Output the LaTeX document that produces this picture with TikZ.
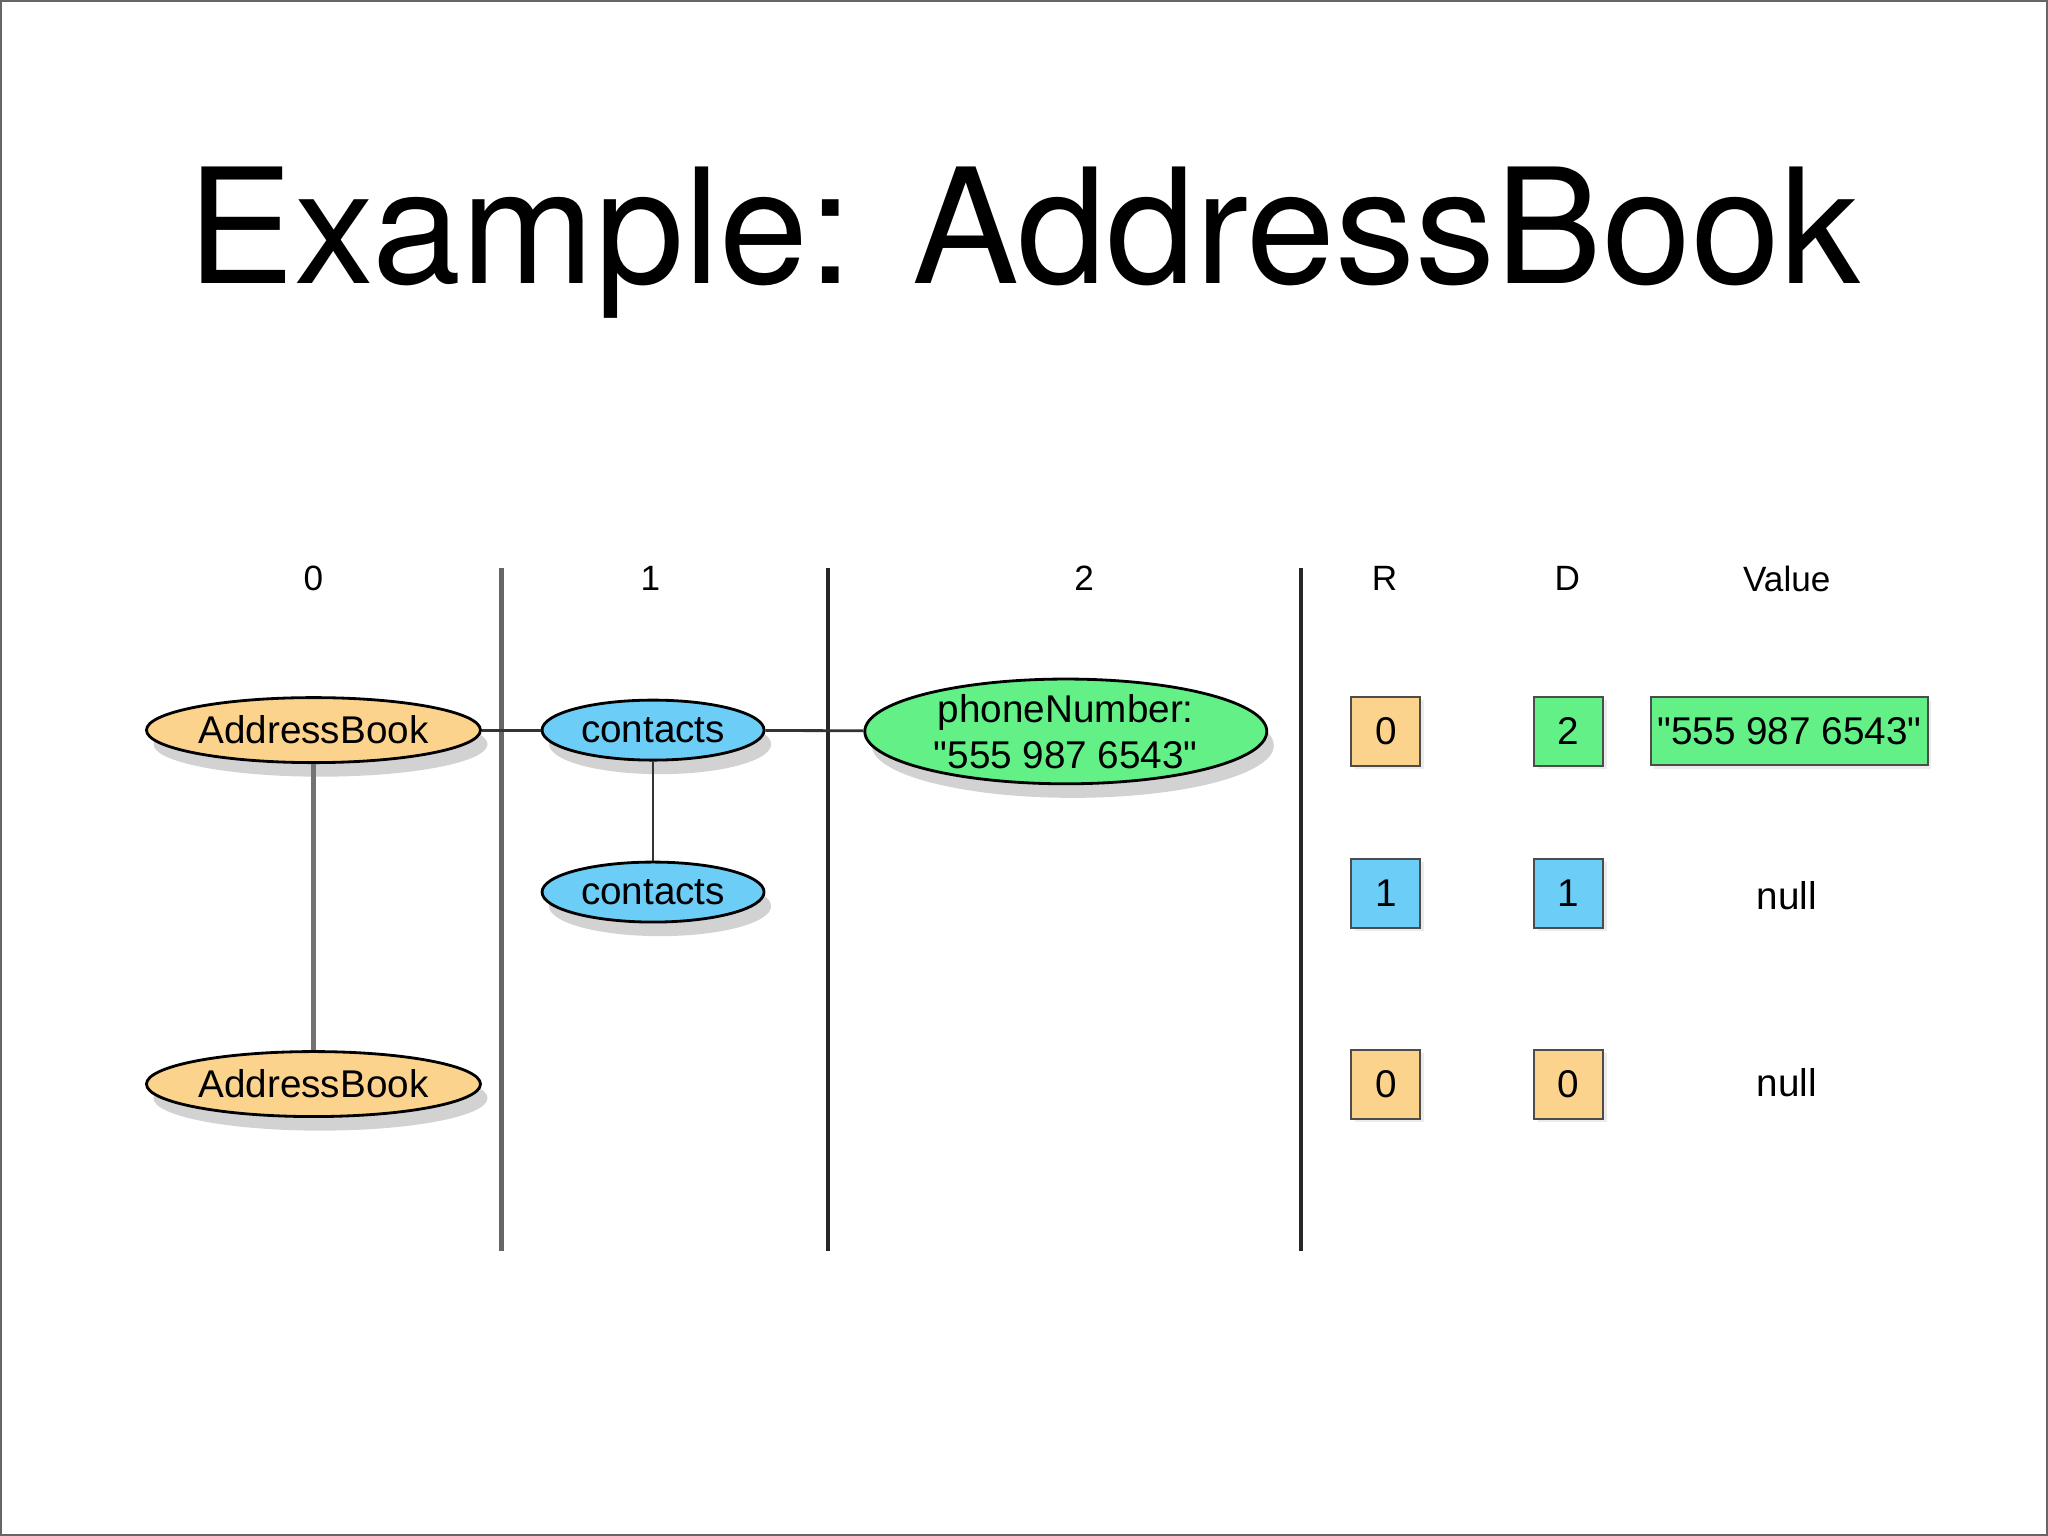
\documentclass[tikz,border=0pt]{standalone}
\usepackage{fontspec}
\setmainfont{Liberation Sans}[Ligatures=TeXOff]
\newfontfamily\titlefont{TeX Gyre Heros}
\usetikzlibrary{shapes.geometric,shadows}
\definecolor{orng}{HTML}{FCD38C}
\definecolor{blu}{HTML}{6CCDF7}
\definecolor{grn}{HTML}{62F087}
\newcommand\dq{\char34\relax}
\begin{document}
\begin{tikzpicture}[x=0.01306cm,y=-0.01306cm,
  ell/.style={ellipse,draw=black,line width=0.8pt,inner sep=0pt,font=\fontsize{11}{12}\selectfont,align=center,drop shadow={shadow xshift=2pt,shadow yshift=-4pt,opacity=0.35}},
  sq/.style={draw=black!70,line width=0.6pt,minimum size=0.69cm,inner sep=0pt,font=\fontsize{11}{12}\selectfont,drop shadow={shadow xshift=1pt,shadow yshift=-1pt,opacity=0.15}},
  hd/.style={font=\fontsize{10}{12}\selectfont},
  link/.style={line width=0.8pt,draw=black!80}]
\fill[white] (0,0) rectangle (1568,1176);
\draw[black!60,line width=0.6pt] (1,1) rectangle (1567,1175);
\node[font=\titlefont\fontsize{45.5}{52}\selectfont] (title) at (784,186) {Example: AddressBook};
\node[hd] (h0) at (240,443) {0};
\node[hd] (h1) at (498,443) {1};
\node[hd] (h2) at (830,443) {2};
\node[hd] (hr) at (1060,443) {R};
\node[hd] (hd) at (1200,443) {D};
\node[hd] (hv) at (1368,443) {Value};
\coordinate (v1t) at (384,435); \coordinate (v1b) at (384,958);
\coordinate (v2t) at (634,435); \coordinate (v2b) at (634,958);
\coordinate (v3t) at (996,435); \coordinate (v3b) at (996,958);
\draw[black!60,line width=1.2pt] (v1t) -- (v1b);
\draw[black!85,line width=1.2pt] (v2t) -- (v2b);
\draw[black!85,line width=1.2pt] (v3t) -- (v3b);
\node[ell,fill=orng,minimum width=3.34cm,minimum height=0.65cm] (ab1) at (240,559) {AddressBook};
\node[ell,fill=blu,minimum width=2.22cm,minimum height=0.6cm] (c1) at (500,559) {contacts};
\node[ell,fill=grn,minimum width=4.02cm,minimum height=0.99cm,font=\fontsize{11}{13}\selectfont] (ph) at (816,560) {phoneNumber:\\\dq 555 987 6543\dq};
\node[ell,fill=blu,minimum width=2.22cm,minimum height=0.6cm] (c2) at (500,683) {contacts};
\node[ell,fill=orng,minimum width=3.34cm,minimum height=0.65cm] (ab2) at (240,830) {AddressBook};
\draw[link] (ab1) -- (c1);
\draw[link] (c1) -- (ph);
\draw[link] (c1) -- (c2);
\draw[link,draw=black!55,line width=1.2pt] (ab1) -- (ab2);
\node[sq,fill=orng] (r1) at (1061,560) {0};
\node[sq,fill=grn] (d1) at (1201,560) {2};
\node[sq,fill=grn,minimum width=2.77cm,minimum height=0.68cm] (val1) at (1370,560) {\dq 555 987 6543\dq};
\node[sq,fill=blu] (r2) at (1061,684) {1};
\node[sq,fill=blu] (d2) at (1201,684) {1};
\node[font=\fontsize{11}{12}\selectfont] (val2) at (1368,686) {null};
\node[sq,fill=orng] (r3) at (1061,830) {0};
\node[sq,fill=orng] (d3) at (1201,830) {0};
\node[font=\fontsize{11}{12}\selectfont] (val3) at (1368,829) {null};
\end{tikzpicture}
\end{document}
